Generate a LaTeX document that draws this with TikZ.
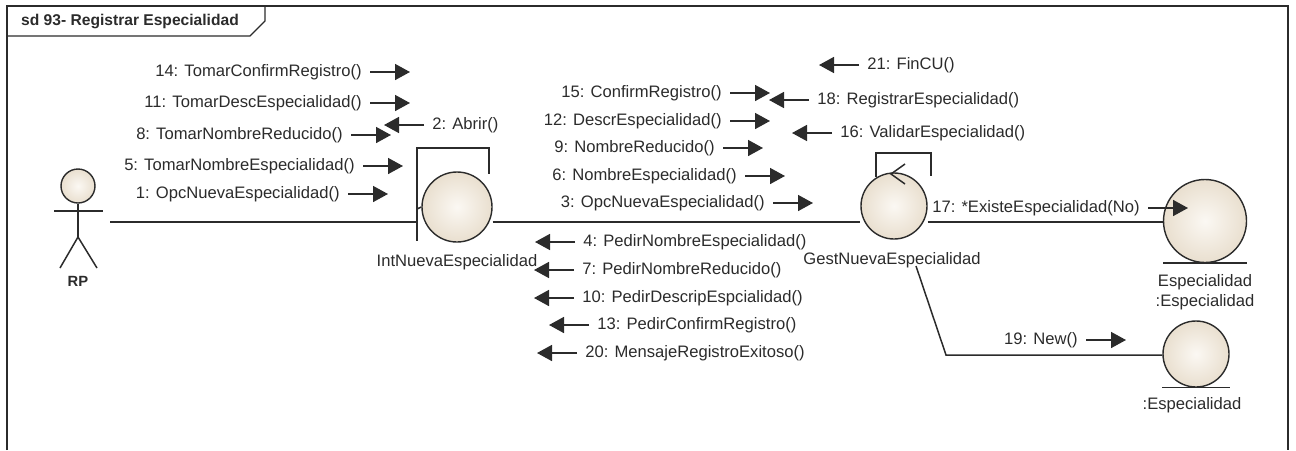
\documentclass[tikz,border=0pt]{standalone}
\usepackage{fontspec}
\setmainfont{Liberation Sans}
\usetikzlibrary{arrows.meta}
\definecolor{ink}{HTML}{2B2B2B}
\definecolor{cream}{HTML}{E9DFCF}
\definecolor{creamhi}{HTML}{FBF8F3}

\begin{document}
\begin{tikzpicture}[x=0.5pt,y=-0.5pt,font=\fontsize{8.3}{10}\selectfont,text=ink,
  >={Triangle[length=7.5pt,width=8pt]},
  link/.style={ink,line width=0.75pt},
  msg/.style={ink,line width=0.8pt,->},
  msgtxt/.style={inner sep=0pt},
  obj/.style={circle,draw=ink,line width=0.7pt,inner sep=0pt,
    inner color=creamhi,outer color=cream}]
  \useasboundingbox (0,0) rectangle (1296,450);

  \draw[ink,line width=1pt] (7,450)--(7,6)--(1288,6)--(1288,450);
  \draw[ink,line width=0.6pt] (7,36)--(250,36)--(265,21)--(265,6);
  \node[font=\fontsize{7.8}{9}\selectfont\bfseries] (title) at (130,21)
    {sd 93- Registrar Especialidad};

  \node[obj,minimum size=17pt] (rphead) at (78,186) {};
  \draw[link] (54,211) -- (103,211);
  \draw[link] (rphead.south) -- (78,237) coordinate (rphip);
  \draw[link] (60,268) -- (rphip) -- (97,268);
  \node[font=\fontsize{7.4}{9}\selectfont\bfseries] (rp) at (78,281) {RP};

  \node[obj,minimum size=35pt] (int) at (457,207) {};
  \coordinate (intbar) at (417,209);
  \draw[link] (417,175) -- (417,241);
  \draw[link] (intbar) -- (int.west);
  \draw[link] (417,175) -- (417,148) -- (489,148) -- (489,174);
  \node (intlbl) at (457,262) {IntNuevaEspecialidad};

  \node[obj,minimum size=33pt] (gest) at (894,206) {};
  \draw[link] (905,164) -- (891,174) -- (905,184);
  \draw[link] (876,177) -- (876,153) -- (931,153) -- (931,176);
  \node (gestlbl) at (892,260) {GestNuevaEspecialidad};

  \node[obj,minimum size=41.5pt] (ent1) at (1205,221) {};
  \draw[link] ([xshift=-21pt]ent1.south) -- ([xshift=21pt]ent1.south);
  \node (ent1lbl) at (1205,282) {Especialidad};
  \node (ent1typ) at (1205,302) {:Especialidad};

  \node[obj,minimum size=33pt] (ent2) at (1196,354) {};
  \draw[link] ([xshift=-17pt]ent2.south) -- ([xshift=17pt]ent2.south);
  \node (ent2lbl) at (1192,405) {:Especialidad};

  \coordinate (lk) at (0,222);
  \coordinate (rpR) at (110,222);
  \coordinate (gdown) at (916,266);
  \coordinate (gbend) at (946,355);
  \draw[link] (rpR) -- (intbar |- lk);
  \draw[link] (int.east |- lk) -- (gest.west |- lk);
  \draw[link] (gest.east |- lk) -- (ent1.west |- lk);
  \draw[link] (gdown) -- (gbend) -- (ent2.west |- gbend);

  \foreach \nm/\xx/\yy/\txt in {
    m14/362/72/{14: TomarConfirmRegistro()},
    m11/362/103/{11: TomarDescEspecialidad()},
    m8/343/135/{8: TomarNombreReducido()},
    m5/355/166/{5: TomarNombreEspecialidad()},
    m1/340/194/{1: OpcNuevaEspecialidad()},
    m15/722/93/{15: ConfirmRegistro()},
    m12/722/121/{12: DescrEspecialidad()},
    m9/715/148/{9: NombreReducido()},
    m6/737/176/{6: NombreEspecialidad()},
    m3/765/203/{3: OpcNuevaEspecialidad()},
    m17/1140/208/{17: *ExisteEspecialidad(No)},
    m19/1078/340/{19: New()}}{
    \node[msgtxt,anchor=east] (\nm) at (\xx,\yy) {\txt};
    \draw[msg] ([xshift=4pt]\nm.east) -- ++(20pt,0);
  }
  \foreach \nm/\xx/\yy/\txt in {
    m2/432/125/{2: Abrir()},
    m4/583/242/{4: PedirNombreEspecialidad()},
    m7/582/270/{7: PedirNombreReducido()},
    m10/582/298/{10: PedirDescripEspcialidad()},
    m13/597/325/{13: PedirConfirmRegistro()},
    m20/585/353/{20: MensajeRegistroExitoso()},
    m21/867/65/{21: FinCU()},
    m18/817/100/{18: RegistrarEspecialidad()},
    m16/840/133/{16: ValidarEspecialidad()}}{
    \node[msgtxt,anchor=west] (\nm) at (\xx,\yy) {\txt};
    \draw[msg] ([xshift=-4pt]\nm.west) -- ++(-20pt,0);
  }
\end{tikzpicture}
\end{document}
